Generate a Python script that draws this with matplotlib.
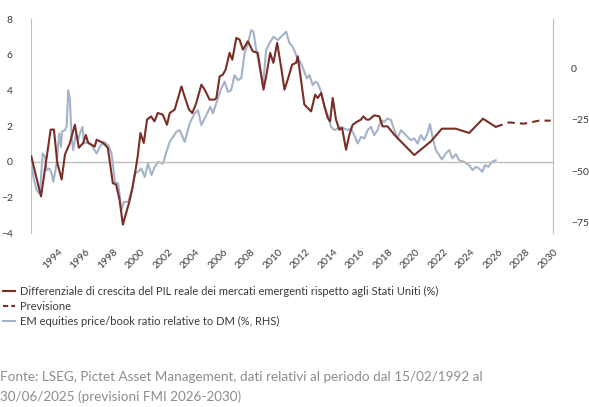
import numpy as np
import matplotlib
matplotlib.use('Agg')
import matplotlib.pyplot as plt
from matplotlib.lines import Line2D

plt.rcParams['font.family'] = ['Lato', 'DejaVu Sans']

# GDP growth differential EM vs US (%, LHS)
gdp_years = [1992.06, 1992.77, 1993.47, 1993.71, 1993.95, 1994.27, 1994.51, 1994.87,
             1995.23, 1995.52, 1995.84, 1996.03, 1996.2, 1996.68, 1996.81, 1997.29,
             1997.63, 1997.99, 1998.23, 1998.48, 1998.72, 1998.96, 1999.2, 1999.44,
             1999.61, 1999.8, 2000.0, 2000.24, 2000.48, 2000.77, 2001.02, 2001.26,
             2001.62, 2001.93, 2002.13, 2002.49, 2002.98, 2003.21, 2003.53, 2003.77,
             2004.06, 2004.43, 2004.67, 2005.03, 2005.39, 2005.52, 2005.76, 2005.99,
             2006.19, 2006.48, 2006.68, 2006.97, 2007.21, 2007.45, 2007.81, 2008.17,
             2008.53, 2008.95, 2009.14, 2009.43, 2009.67, 2009.94, 2010.23, 2010.47,
             2010.71, 2011.03, 2011.32, 2011.44, 2011.92, 2012.41, 2012.7, 2012.89,
             2013.14, 2013.38, 2013.62, 2013.79, 2013.98, 2014.22, 2014.46, 2014.66,
             2014.95, 2015.19, 2015.43, 2015.79, 2016.04, 2016.2, 2016.44, 2016.64,
             2017.0, 2017.37, 2017.61, 2017.97, 2018.46, 2019.91, 2021.12, 2021.92,
             2022.93, 2023.9, 2024.91, 2025.83]
gdp_diff = [0.3, -1.95, 1.8, 1.8, -0.05, -1.0, 0.4, 1.05,
            2.07, 0.78, 1.05, 1.5, 1.05, 0.85, 1.23, 1.05,
            0.77, -1.2, -1.29, -2.13, -3.53, -2.88, -2.23, -1.38,
            -0.63, 0.3, 1.61, 1.05, 2.36, 2.54, 2.26, 2.73,
            2.64, 2.07, 2.73, 2.92, 4.22, 3.66, 2.92, 2.73,
            3.29, 4.32, 4.04, 3.48, 3.48, 3.57, 4.78, 4.88,
            5.16, 6.1, 5.72, 6.94, 6.84, 6.28, 6.75, 6.19,
            6.1, 4.04, 4.78, 6.1, 5.54, 6.66, 5.3, 4.04,
            4.6, 5.44, 5.54, 5.91, 3.2, 2.82, 3.76, 3.57,
            3.85, 3.1, 2.45, 2.26, 3.57, 2.36, 1.79, 1.89,
            0.67, 1.51, 2.07, 2.26, 2.36, 2.54, 2.36, 2.36,
            2.6, 2.54, 1.98, 1.98, 1.51, 0.37, 1.14, 1.85,
            1.85, 1.61, 2.41, 1.95]

# IMF forecast (dashed)
fc_years = [2025.83, 2026.8, 2027.89, 2028.98, 2029.83]
fc_diff = [1.95, 2.2, 2.13, 2.3, 2.3]

# EM price/book relative to DM (%, RHS)
pb_years = [1992.04, 1992.21, 1992.45, 1992.64, 1992.74, 1992.89, 1993.06, 1993.18,
            1993.37, 1993.54, 1993.66, 1993.83, 1993.95, 1994.09, 1994.22, 1994.29,
            1994.51, 1994.63, 1994.75, 1994.87, 1994.99, 1995.11, 1995.31, 1995.47,
            1995.6, 1995.79, 1995.89, 1996.2, 1996.45, 1996.81, 1997.05, 1997.34,
            1997.65, 1997.9, 1998.14, 1998.38, 1998.62, 1998.79, 1999.1, 1999.35,
            1999.59, 1999.83, 2000.07, 2000.31, 2000.55, 2000.8, 2001.04, 2001.28,
            2001.64, 2001.89, 2002.13, 2002.37, 2002.61, 2002.85, 2003.22, 2003.58,
            2003.94, 2004.18, 2004.43, 2004.79, 2005.08, 2005.27, 2005.63, 2005.88,
            2006.12, 2006.36, 2006.6, 2006.84, 2007.08, 2007.33, 2007.57, 2007.81,
            2008.06, 2008.22, 2008.42, 2008.66, 2008.9, 2009.14, 2009.38, 2009.67,
            2009.99, 2010.23, 2010.6, 2010.84, 2011.08, 2011.32, 2011.44, 2011.68,
            2011.92, 2012.09, 2012.29, 2012.53, 2012.72, 2012.89, 2013.14, 2013.38,
            2013.62, 2013.86, 2014.1, 2014.34, 2014.59, 2014.83, 2015.07, 2015.31,
            2015.55, 2015.79, 2016.04, 2016.28, 2016.52, 2016.76, 2017.0, 2017.24,
            2017.49, 2017.73, 2017.97, 2018.22, 2018.46, 2018.7, 2018.94, 2019.18,
            2019.42, 2019.67, 2019.91, 2020.15, 2020.39, 2020.63, 2020.87, 2021.05,
            2021.24, 2021.48, 2021.72, 2021.92, 2022.21, 2022.45, 2022.69, 2022.93,
            2023.17, 2023.54, 2023.9, 2024.14, 2024.38, 2024.62, 2024.86, 2025.06,
            2025.3, 2025.55, 2025.83]
pb_rel = [-43, -52.8, -59.2, -60.8, -56, -41.4, -43, -49.5,
          -48.7, -51.1, -55.2, -49.5, -43, -31.7, -38.2, -30.9,
          -30.1, -28.5, -10.7, -15.5, -33.4, -39.8, -31.7, -35,
          -31.7, -28.5, -36.6, -35.8, -37.4, -41.4, -38.2, -35.8,
          -37.4, -41.4, -55.2, -56, -68.9, -64.9, -64.9, -60,
          -51.1, -50.3, -48.7, -52.8, -46.3, -51.9, -47.9, -45.5,
          -46.3, -40.6, -35.8, -33.4, -30.9, -30.1, -35.8, -26.8,
          -22, -20.4, -27.7, -22.8, -18.8, -22, -14.7, -9.9,
          -6.6, -11.5, -10.7, -3.4, -5.8, -5, 7.1, 12,
          18.4, 17.6, 8.7, 0.6, -9.1, 8.7, 12, 15.2,
          13.6, 15.2, 17.6, 12, 10.3, 6.3, 4.7, 2.3,
          -1.8, -5, -3.4, -8.3, -6.6, -7.4, -11.5, -18.8,
          -22.8, -28.5, -30.1, -29.3, -28.5, -29.3, -30.1, -29.3,
          -32.5, -36.6, -33.4, -34.1, -30.1, -28.5, -32.5, -30.1,
          -25.2, -26.1, -24.4, -25.2, -30.1, -34.1, -30.1, -31.7,
          -33.4, -35, -34.1, -36.6, -32.5, -35, -31.7, -27.2,
          -33.4, -39.8, -42.2, -44.3, -41.4, -39.8, -43.8, -41.7,
          -44.7, -45.5, -47.1, -49.5, -47.9, -48.7, -50.3, -47.1,
          -47.9, -45.5, -44.7]

year_ticks = list(range(1994, 2031, 2))
left_ticks = [-4, -2, 0, 2, 4, 6, 8]
right_ticks = [-75, -50, -25, 0]

red = '#7a2e28'
blue = '#a3b3c9'
grey = '#bdbdbd'
txt = '#3a3a3a'

fig = plt.figure(figsize=(5.89, 4.07), dpi=100)
ax = fig.add_axes([0.0526, 0.4275, 0.8863, 0.5258])
ax2 = ax.twinx()

ax.axhline(0, color=grey, lw=1, zorder=1)
ax2.plot(pb_years, pb_rel, color=blue, lw=1.5, zorder=2)
ax.plot(gdp_years, gdp_diff, color=red, lw=1.5, zorder=3)
ax.plot(fc_years, fc_diff, color=red, lw=1.5, ls=(0, (3.5, 2.5)), zorder=3)

ax.set_zorder(ax2.get_zorder() + 1)
ax.patch.set_visible(False)

ax.set_xlim(1992.04, 2030.0)
ax.set_ylim(-4, 8)
ax2.set_ylim(-80, 23.8)

ax.set_xticks(year_ticks)
ax.set_xticklabels([str(y) for y in year_ticks], rotation=45, ha='right',
                   rotation_mode='anchor')
ax.set_yticks(left_ticks)
ax2.set_yticks(right_ticks)

for a in (ax, ax2):
    for s in a.spines.values():
        s.set_visible(False)
    a.tick_params(length=0, labelsize=7.5, colors=txt)
ax.spines['left'].set_visible(True)
ax.spines['left'].set_color(grey)
ax2.spines['right'].set_visible(True)
ax2.spines['right'].set_color(grey)
ax.tick_params(axis='y', pad=13)
ax2.tick_params(axis='y', pad=13)
ax.tick_params(axis='x', pad=10)

handles = [Line2D([], [], color=red, lw=1.5),
           Line2D([], [], color=red, lw=1.5, ls=(0, (2.5, 1.5))),
           Line2D([], [], color=blue, lw=1.5)]
labels = ['Differenziale di crescita del PIL reale dei mercati emergenti rispetto agli Stati Uniti (%)',
          'Previsione',
          'EM equities price/book ratio relative to DM (%, RHS)']
fig.legend(handles, labels, loc='upper left', bbox_to_anchor=(0.005, 1 - 286 / 407),
           frameon=False, fontsize=8, handlelength=1.1, handletextpad=0.4,
           labelspacing=0.35, borderaxespad=0, borderpad=0, labelcolor=txt)

fig.text(0.0, 1 - 377 / 407, 'Fonte: LSEG, Pictet Asset Management, dati relativi al periodo dal 15/02/1992 al',
         color='#8c8c8c', fontsize=9.7, va='center', ha='left')
fig.text(0.0, 1 - 397 / 407, '30/06/2025 (previsioni FMI 2026-2030)',
         color='#8c8c8c', fontsize=9.7, va='center', ha='left')

fig.savefig('out.png', dpi=100)
